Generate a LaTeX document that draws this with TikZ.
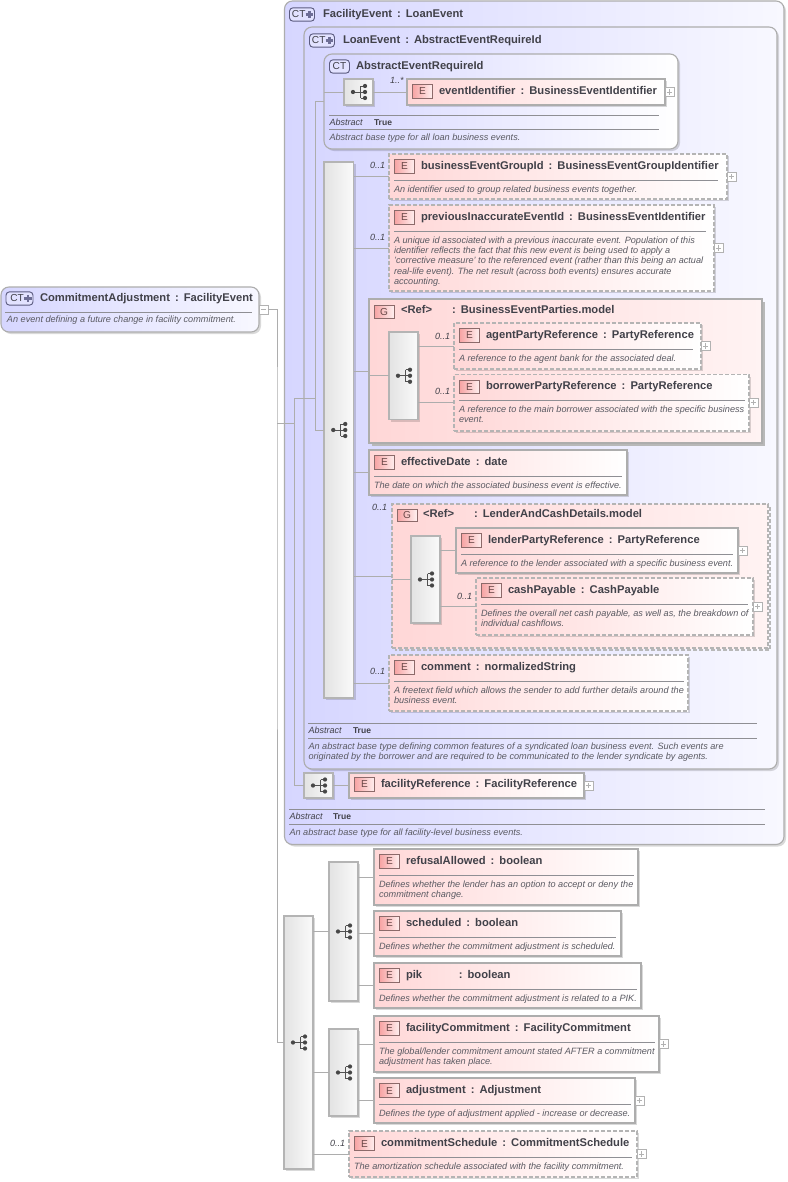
\documentclass[tikz,border=0pt]{standalone}
\usepackage{fontspec}
\setmainfont{Liberation Sans}
\usetikzlibrary{shadows}
\definecolor{ink}{HTML}{414149}
\definecolor{descink}{HTML}{5A5A62}
\definecolor{edgegray}{HTML}{ADADAD}
\definecolor{seqedge}{HTML}{B4B4B4}
\definecolor{linegray}{HTML}{ADADAD}
\definecolor{ruleink}{HTML}{8F8F94}
\definecolor{ctblue}{HTML}{D6D6FF}
\definecolor{ctpale}{HTML}{F8F8FF}
\definecolor{elpink}{HTML}{FFD7D7}
\definecolor{grpale}{HTML}{FFF3F3}
\definecolor{iconl}{HTML}{F7A2A2}
\definecolor{iconr}{HTML}{FFF0F0}
\definecolor{iconedge}{HTML}{8C6A6A}
\definecolor{iconink}{HTML}{6A4848}
\definecolor{ctedge}{HTML}{5C5C80}
\definecolor{ctplus}{HTML}{6E6E96}
\newcommand\ttlfont{\fontsize{8.4}{9.5}\selectfont\bfseries\color{ink}}
\newcommand\descfont{\fontsize{6.85}{7.75}\selectfont\itshape\color{descink}}
\newcommand\smallfont{\fontsize{6.75}{8}\selectfont\itshape\color{ink}}
\newcommand\ttl[2]{#1\hspace{0.45em}:\hspace{0.45em}#2}
\tikzset{
  x=0.75pt,y=-0.75pt,
  box/.style={inner sep=0pt,outer sep=0pt,line width=0.85pt,draw=edgegray},
  softshadow/.style={drop shadow={shadow xshift=1.5pt,shadow yshift=-1.5pt,fill=black,opacity=0.15}},
  ctbox/.style={box,rounded corners=6pt,left color=ctblue,right color=ctpale,softshadow},
  ctwhite/.style={box,rounded corners=6pt,left color=ctblue,right color=white,softshadow},
  solidel/.style={box,left color=elpink,right color=white,softshadow},
  dashel/.style={box,left color=elpink,right color=white,softshadow,dash pattern=on 3pt off 1.5pt,draw=seqedge},
  solidgrp/.style={box,left color=elpink,right color=grpale},
  dashgrp/.style={box,left color=elpink,right color=grpale,dash pattern=on 3pt off 1.5pt,draw=seqedge},
  seqbox/.style={box,draw=seqedge,left color=black!11,right color=black!2,softshadow},
  conn/.style={line width=0.6pt,draw=linegray},
  rulel/.style={line width=0.6pt,draw=ruleink},
  txt/.style={inner sep=0pt,outer sep=0pt,anchor=base west},
  desc/.style={inner sep=0pt,outer sep=0pt,anchor=north west,align=left,font=\descfont},
  eicon/.style={inner sep=0pt,outer sep=0pt,line width=0.6pt,draw=iconedge,left color=iconl,right color=iconr,font=\fontsize{7.6}{8}\selectfont\color{iconink}},
  cticon/.style={inner sep=0pt,outer sep=0pt,line width=0.7pt,draw=ctedge,rounded corners=2.6pt,fill=ctblue!70,font=\fontsize{7.6}{8}\selectfont\color{ink}},
  expander/.style={inner sep=0pt,outer sep=0pt,line width=0.5pt,draw=black!30,fill=white,minimum size=6.6pt},
}
\newcommand\rect[6]{\node[#2,minimum width={(#5-#3)*0.75pt},minimum height={(#6-#4)*0.75pt}] (#1) at ({(#3+#5)/2},{(#4+#6)/2}) {};}
% name style x1 y1 x2 y2 ruleright title desc
\newcommand\elem[9]{%
  \rect{#1}{#2}{#3}{#4}{#5}{#6}
  \elemhead{#1}{#3}{#4}{#8}
  \draw[rulel] ({#3+5},{#4+26}) -- (#7,{#4+26});
  \node[desc] (#1-d) at ({#3+5},{#4+30}) {\rule{0pt}{6pt}#9};
}
\newcommand\elemhead[4]{%
  \node[eicon,minimum width=15.5pt,minimum height=10pt] (#1-e) at ({#2+15.5},{#3+12.5}) {E};
  \node[txt,font=\ttlfont] (#1-t) at ({#2+32},{#3+15.4}) {#4};
}
\newcommand\plusbox[1]{%
  \node[expander] (#1-x) at ([xshift=3.4pt]#1.east) {};
  \draw[line width=0.4pt,draw=black!30] ([xshift=-2pt]#1-x.center) -- ([xshift=2pt]#1-x.center) ([yshift=-2pt]#1-x.center) -- ([yshift=2pt]#1-x.center);
}
\newcommand\seqicon[1]{%
  \begin{scope}[shift={(#1.center)}]
    \draw[line width=0.7pt,draw=black!68] (-5.5,0) -- (2,0) (2,-6) -- (2,6) (2,-6) -- (6.5,-6) (2,0) -- (6.5,0) (2,6) -- (6.5,6);
    \fill[black!72] (-5.5,0) circle (1.6pt) (6.5,-6) circle (1.6pt) (6.5,0) circle (1.6pt) (6.5,6) circle (1.6pt);
  \end{scope}
}
\newcommand\seqnode[5]{\rect{#1}{seqbox}{#2}{#3}{#4}{#5}\seqicon{#1}}
% prefix x1 x2 y1 y2 truex desc
\newcommand\abstractrow[7]{%
  \draw[rulel] (#2,#4) -- (#3,#4);
  \draw[rulel] (#2,#5) -- (#3,#5);
  \node[txt,font=\smallfont] (#1-al) at ({#2+0.5},{#4+10.5}) {Abstract};
  \node[txt,font=\fontsize{6.4}{8}\selectfont\bfseries\color{ink}] (#1-at) at (#6,{#4+10}) {True};
  \node[desc] (#1-ad) at ({#2+0.5},{#5+3.5}) {\rule{0pt}{6pt}#7};
}
\newcommand\cticonnode[4]{%
  \node[cticon,minimum width={#4*0.75pt},minimum height=10pt] (#1) at ({#2+#4/2},#3) {};
}
\newcommand\ctmark[3]{% name x y
  \node[inner sep=0pt,anchor=west,font=\fontsize{7.6}{8}\selectfont\color{ink}] (#1-c) at (#2,#3) {CT};
  \draw[line width=1.7pt,draw=ctplus] ({#2+14},#3) -- ({#2+21.5},#3) ({#2+17.75},{#3-3.7}) -- ({#2+17.75},{#3+3.7});
}
\begin{document}
\begin{tikzpicture}
\useasboundingbox[fill=white] (0,0) rectangle (788,1182);

% ---------- outer types
\rect{root}{ctbox}{1}{287}{259}{332}
\rect{fac}{ctbox}{284.5}{1}{784}{844.5}
\rect{loan}{ctbox}{304}{27}{777}{769}
\rect{abs}{ctwhite}{324}{54}{678}{149}

% root
\cticonnode{root-i}{6}{298.5}{27}
\ctmark{root-i}{10}{298.5}
\node[txt,font=\ttlfont] (root-t) at (40,301.5) {\ttl{CommitmentAdjustment}{FacilityEvent}};
\draw[rulel] (5,312) -- (252,312);
\node[desc] (root-d) at (7,314) {\rule{0pt}{6pt}An event defining a future change in facility commitment.};
\node[expander] (rootx) at (263.5,309.5) {};
\draw[line width=0.4pt,draw=black!30] ([xshift=-2pt]rootx.center) -- ([xshift=2pt]rootx.center);

% FacilityEvent head
\cticonnode{fac-i}{289.5}{14.5}{25}
\ctmark{fac-i}{291.7}{14.5}
\node[txt,font=\ttlfont] (fac-t) at (323,17.5) {\ttl{FacilityEvent}{LoanEvent}};
% LoanEvent head
\cticonnode{loan-i}{309.5}{40.5}{25}
\ctmark{loan-i}{311.7}{40.5}
\node[txt,font=\ttlfont] (loan-t) at (343,43) {\ttl{LoanEvent}{AbstractEventRequireId}};
% AbstractEventRequireId head
\node[cticon,minimum width=15pt,minimum height=10pt] (abs-i) at (339.5,66.5) {CT};
\node[txt,font=\ttlfont] (abs-t) at (356,69) {AbstractEventRequireId};

% eventIdentifier
\seqnode{absseq}{344}{79}{373}{105}
\rect{eid}{solidel}{407}{79}{665}{105}
\elemhead{eid}{407}{79}{\ttl{eventIdentifier}{BusinessEventIdentifier}}
\plusbox{eid}
\node[txt,font=\smallfont] (eid-m) at (390,83.5) {1..*};
\abstractrow{abs}{329}{659}{115}{129}{374}{Abstract base type for all loan business events.}

% big sequence
\seqnode{bigseq}{324}{162}{353.5}{698}

\elem{bgid}{dashel}{389}{154}{727}{199}{718}{\ttl{businessEventGroupId}{BusinessEventGroupIdentifier}}{An identifier used to group related business events together.}
\plusbox{bgid}
\node[txt,font=\smallfont] (bgid-m) at (370,168) {0..1};

\elem{prev}{dashel}{389}{205}{714}{291}{706}{\ttl{previousInaccurateEventId}{BusinessEventIdentifier}}{A unique id associated with a previous inaccurate event. Population of this\\identifier reflects the fact that this new event is being used to apply a\\'corrective measure' to the referenced event (rather than this being an actual\\real-life event). The net result (across both events) ensures accurate\\accounting.}
\plusbox{prev}
\node[txt,font=\smallfont] (prev-m) at (370,240) {0..1};

% group parties
\draw[line width=1.1pt,draw=black!28] (764,302) -- (764,445) -- (372,445);
\rect{grp1}{solidgrp}{369}{299}{762}{443}
\node[eicon,minimum width=15pt,minimum height=9.4pt] (grp1-g) at (384,312) {G};
\node[txt,font=\ttlfont] (grp1-r) at (401,313.5) {<Ref>};
\node[txt,font=\ttlfont] (grp1-t) at (452,313.5) {:\hspace{0.45em}BusinessEventParties.model};
\seqnode{pseq}{389}{332}{418}{419.5}
\elem{agent}{dashel}{454}{323}{701}{369}{693}{\ttl{agentPartyReference}{PartyReference}}{A reference to the agent bank for the associated deal.}
\plusbox{agent}
\node[txt,font=\smallfont] (agent-m) at (435,339.5) {0..1};
\elem{borrow}{dashel}{454}{374.5}{749}{431}{745}{\ttl{borrowerPartyReference}{PartyReference}}{A reference to the main borrower associated with the specific business\\event.}
\plusbox{borrow}
\node[txt,font=\smallfont] (borrow-m) at (435,394.5) {0..1};

% effectiveDate
\elem{effdate}{solidel}{369}{450}{627}{495}{622}{\ttl{effectiveDate}{date}}{The date on which the associated business event is effective.}

% group lender
\draw[line width=1.1pt,draw=black!28,dash pattern=on 3pt off 1.5pt] (770,507) -- (770,650) -- (395,650);
\rect{grp2}{dashgrp}{392}{504}{768}{648}
\node[eicon,minimum width=15pt,minimum height=9.4pt] (grp2-g) at (407,515.5) {G};
\node[txt,font=\ttlfont] (grp2-r) at (423,517.5) {<Ref>};
\node[txt,font=\ttlfont] (grp2-t) at (474,517.5) {:\hspace{0.45em}LenderAndCashDetails.model};
\node[txt,font=\smallfont] (grp2-m) at (372,510) {0..1};
\seqnode{lseq}{411}{536}{440}{623}
\elem{lender}{solidel}{456}{528}{738}{573}{733}{\ttl{lenderPartyReference}{PartyReference}}{A reference to the lender associated with a specific business event.}
\plusbox{lender}
\elem{cash}{dashel}{476}{578}{753}{635}{748}{\ttl{cashPayable}{CashPayable}}{Defines the overall net cash payable, as well as, the breakdown of\\individual cashflows.}
\plusbox{cash}
\node[txt,font=\smallfont] (cash-m) at (457,599) {0..1};

% comment
\elem{comment}{dashel}{389}{655}{688}{711}{684}{\ttl{comment}{normalizedString}}{A freetext field which allows the sender to add further details around the\\business event.}
\node[txt,font=\smallfont] (comment-m) at (370,674) {0..1};

\abstractrow{loan}{308}{757}{723}{738}{353}{An abstract base type defining common features of a syndicated loan business event. Such events are\\originated by the borrower and are required to be communicated to the lender syndicate by agents.}

% facilityReference
\seqnode{fseq}{304}{773}{333}{798}
\rect{fref}{solidel}{349}{773}{584}{798}
\elemhead{fref}{349}{772}{\ttl{facilityReference}{FacilityReference}}
\plusbox{fref}
\abstractrow{fac}{289}{765}{809}{824}{333}{An abstract base type for all facility-level business events.}

% bottom block
\seqnode{mainseq}{284}{916}{313}{1169}
\seqnode{seqa}{329}{862}{358}{1001}
\seqnode{seqb}{329}{1029}{358}{1116}

\elem{refusal}{solidel}{374}{849}{638}{905}{634}{\ttl{refusalAllowed}{boolean}}{Defines whether the lender has an option to accept or deny the\\commitment change.}
\elem{sched}{solidel}{374}{911}{621}{956}{616}{\ttl{scheduled}{boolean}}{Defines whether the commitment adjustment is scheduled.}
\elem{pik}{solidel}{374}{963}{641}{1008}{637}{pik\hspace{27.5pt}:\hspace{0.45em}boolean}{Defines whether the commitment adjustment is related to a PIK.}
\elem{fcom}{solidel}{374}{1016}{659}{1072}{655}{\ttl{facilityCommitment}{FacilityCommitment}}{The global/lender commitment amount stated AFTER a commitment\\adjustment has taken place.}
\plusbox{fcom}
\elem{adj}{solidel}{374}{1078}{635}{1123}{631}{\ttl{adjustment}{Adjustment}}{Defines the type of adjustment applied - increase or decrease.}
\plusbox{adj}
\elem{csched}{dashel}{349}{1131}{637}{1177}{632}{\ttl{commitmentSchedule}{CommitmentSchedule}}{The amortization schedule associated with the facility commitment.}
\plusbox{csched}
\node[txt,font=\smallfont] (csched-m) at (330,1146) {0..1};

% ---------- connectors
\coordinate (spine) at (277,423);
\coordinate (fspine) at (294,423);
\coordinate (lspine) at (315,398);
\draw[conn] (rootx.east) -| (spine) -- (spine |- mainseq.west) -- (mainseq.west);
\draw[conn] (spine) -- (fspine);
\draw[conn] (fspine |- lspine) -- (fspine |- fseq.west) -- (fseq.west);
\draw[conn] (fspine |- lspine) -- (lspine);
\draw[conn] (lspine |- abs.west) -- (lspine |- bigseq.west) -- (bigseq.west);
\draw[conn] (lspine |- abs.west) -- (abs.west);
\draw[conn] (abs.west |- absseq.west) -- (absseq.west);
\draw[conn] (absseq.east) -- (eid.west);
\foreach \t in {bgid,prev,grp1,effdate,grp2,comment} \draw[conn] (bigseq.east |- \t.west) -- (\t.west);
\draw[conn] (grp1.west |- pseq.west) -- (pseq.west);
\foreach \t in {agent,borrow} \draw[conn] (pseq.east |- \t.west) -- (\t.west);
\draw[conn] (grp2.west |- lseq.west) -- (lseq.west);
\foreach \t in {lender,cash} \draw[conn] (lseq.east |- \t.west) -- (\t.west);
\draw[conn] (fseq.east) -- (fref.west);
\draw[conn] (mainseq.east |- seqa.west) -- (seqa.west);
\draw[conn] (mainseq.east |- seqb.west) -- (seqb.west);
\draw[conn] (mainseq.east |- csched.west) -- (csched.west);
\foreach \t in {refusal,sched,pik} \draw[conn] (seqa.east |- \t.west) -- (\t.west);
\foreach \t in {fcom,adj} \draw[conn] (seqb.east |- \t.west) -- (\t.west);
\end{tikzpicture}
\end{document}
